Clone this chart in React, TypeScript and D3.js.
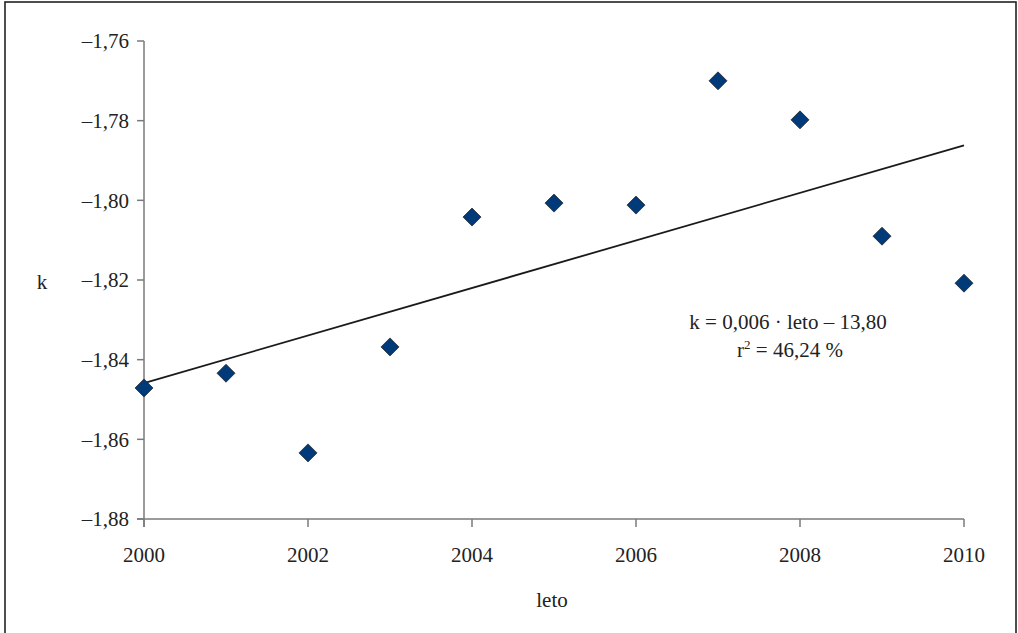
import React from "react";
import * as d3 from "d3";

const years = [2000, 2001, 2002, 2003, 2004, 2005, 2006, 2007, 2008, 2009, 2010];
const kValues = [-1.8471, -1.8434, -1.8634, -1.8368, -1.8042, -1.8007, -1.8012, -1.77, -1.7798, -1.809, -1.8208];
const xTicks = [2000, 2002, 2004, 2006, 2008, 2010];
const yTicks = [-1.76, -1.78, -1.8, -1.82, -1.84, -1.86, -1.88];
const xLabel = "leto";
const yLabel = "k";
const equationText = "k = 0,006 · leto – 13,80";
const r2Text = "46,24 %";

const W = 1018;
const H = 633;
const FONT = "Liberation Serif, Times New Roman, DejaVu Serif, serif";

export default function App() {
  const x = d3.scaleLinear().domain([2000, 2010]).range([144, 964]);
  const y = d3.scaleLinear().domain([-1.88, -1.76]).range([519, 41]);

  const mx = d3.mean(years)!;
  const my = d3.mean(kValues)!;
  const sxy = d3.sum(years.map((v, i) => (v - mx) * (kValues[i] - my)));
  const sxx = d3.sum(years.map((v) => (v - mx) * (v - mx)));
  const slope = sxy / sxx;
  const intercept = my - slope * mx;
  const fit = (v: number) => intercept + slope * v;

  const fmt = (v: number) => "–" + d3.format(".2f")(Math.abs(v)).replace(".", ",");
  const line = d3.line<number>().x((d) => x(d)).y((d) => y(fit(d)));
  const diamond = "M0,-9L9,0L0,9L-9,0Z";
  const ts = { fontFamily: FONT, fontSize: 21, fill: "#222" } as React.CSSProperties;

  return (
    <svg width={W} height={H} style={{ position: "absolute", left: 0, top: 0, background: "#fff", fontFamily: FONT }}>
      <rect x={5} y={2} width={1011} height={660} fill="none" stroke="#222" strokeWidth={1.6} />
      {/* y axis */}
      <line x1={x(2000)} x2={x(2000)} y1={y(-1.76)} y2={y(-1.88) + 8} stroke="#7a7a7a" strokeWidth={1.5} />
      {yTicks.map((t) => (
        <g key={t}>
          <line x1={x(2000) - 7} x2={x(2000)} y1={y(t)} y2={y(t)} stroke="#7a7a7a" strokeWidth={1.5} />
          <text x={x(2000) - 15} y={y(t)} dy="0.35em" textAnchor="end" style={ts}>
            {fmt(t)}
          </text>
        </g>
      ))}
      {/* x axis */}
      <line x1={x(2000) - 7} x2={x(2010)} y1={y(-1.88)} y2={y(-1.88)} stroke="#7a7a7a" strokeWidth={1.5} />
      {xTicks.map((t) => (
        <g key={t}>
          <line x1={x(t)} x2={x(t)} y1={y(-1.88)} y2={y(-1.88) + 8} stroke="#7a7a7a" strokeWidth={1.5} />
          <text x={x(t)} y={562} textAnchor="middle" style={ts}>
            {t}
          </text>
        </g>
      ))}
      <text x={552} y={607} textAnchor="middle" style={ts}>{xLabel}</text>
      <text x={42} y={289} textAnchor="middle" style={ts}>{yLabel}</text>
      {/* trend line */}
      <path d={line([2000, 2010]) ?? ""} fill="none" stroke="#1a1a1a" strokeWidth={1.8} />
      {/* points */}
      {years.map((yr, i) => (
        <path key={yr} d={diamond} transform={`translate(${x(yr)},${y(kValues[i])})`} fill="#003a78" stroke="#2a2a2a" strokeWidth={0.8} />
      ))}
      {/* annotation */}
      <text x={788} y={329} textAnchor="middle" style={ts}>{equationText}</text>
      <text x={790} y={357} textAnchor="middle" style={ts}>
        r<tspan dy={-8} style={{ fontSize: 13 }}>2</tspan><tspan dy={8}>{" = " + r2Text}</tspan>
      </text>
    </svg>
  );
}
